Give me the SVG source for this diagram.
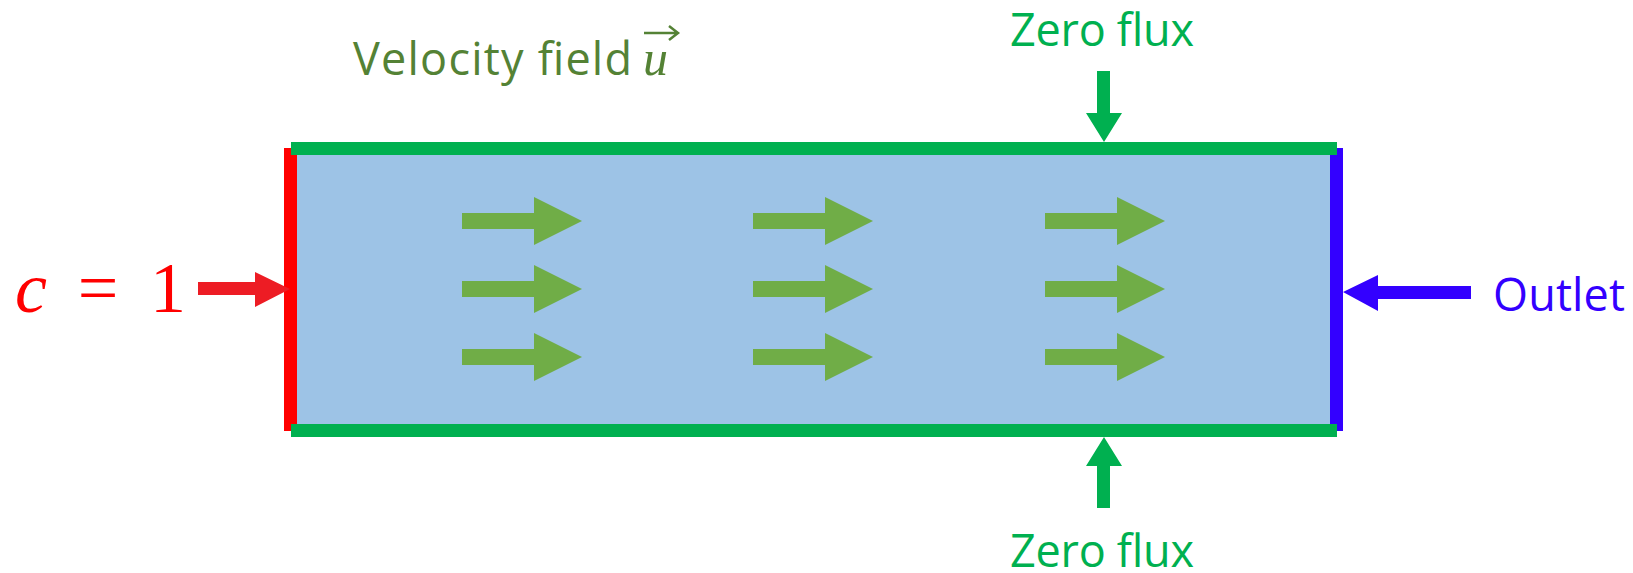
<svg xmlns="http://www.w3.org/2000/svg" width="1633" height="573" viewBox="0 0 1633 573">
<style>
.lbl{font-family:"Open Sans","Noto Sans","Liberation Sans",sans-serif;font-size:45px}
.math{font-family:"Liberation Serif","DejaVu Serif",serif}
.flow{fill:#70AD47}
</style>
<defs>
<path id="flowArrow" d="M0,-8 H72 V-24 L120,0 L72,24 V8 H0 Z"/>
</defs>
<rect width="1633" height="573" fill="#ffffff"/>
<g id="domain">
<rect x="297" y="155" width="1033" height="269" fill="#9DC3E6"/>
</g>
<g id="inlet-boundary">
<rect x="284" y="148" width="13" height="283" fill="#FF0000"/>
</g>
<g id="outlet-boundary">
<rect x="1330" y="148" width="13" height="283" fill="#3300FF"/>
</g>
<g id="top-wall">
<rect x="291" y="142" width="1046" height="13" fill="#00B050"/>
</g>
<g id="bottom-wall">
<rect x="291" y="424" width="1046" height="13" fill="#00B050"/>
</g>
<g id="velocity-arrows" class="flow">
<use href="#flowArrow" x="462" y="221"/>
<use href="#flowArrow" x="462" y="289"/>
<use href="#flowArrow" x="462" y="357"/>
<use href="#flowArrow" x="753" y="221"/>
<use href="#flowArrow" x="753" y="289"/>
<use href="#flowArrow" x="753" y="357"/>
<use href="#flowArrow" x="1045" y="221"/>
<use href="#flowArrow" x="1045" y="289"/>
<use href="#flowArrow" x="1045" y="357"/>
</g>
<g id="connectors">
<polygon points="198,282 255,282 255,272 290,289 255,307 255,295 198,295" fill="#ED1C24"/>
<polygon points="1471,286 1378,286 1378,275 1343,292 1378,311 1378,299 1471,299" fill="#3300FF"/>
<polygon points="1097,71 1110,71 1110,113 1122,113 1104,142 1086,113 1097,113" fill="#00B050"/>
<polygon points="1097,508 1110,508 1110,466 1122,466 1104,437 1086,466 1097,466" fill="#00B050"/>
</g>
<g id="label-velocity">
<text class="lbl" x="353" y="75" fill="#548235" textLength="279">Velocity field</text>
<text class="math" x="643" y="75" font-size="50" font-style="italic" fill="#548235">u</text>
<path d="M644,33 H677 M669,26 L678,33 L669,40" fill="none" stroke="#548235" stroke-width="2.5"/>
</g>
<g id="label-inlet">
<text class="math" y="312" font-size="72" fill="#FF0000"><tspan x="15" font-style="italic">c</tspan><tspan x="98" text-anchor="middle">=</tspan><tspan x="168" text-anchor="middle">1</tspan></text>
</g>
<g id="label-outlet">
<text class="lbl" x="1493" y="311" font-size="47" fill="#3300FF" textLength="132">Outlet</text>
</g>
<g id="label-top">
<text class="lbl" x="1010" y="46" fill="#00B050" textLength="184">Zero flux</text>
</g>
<g id="label-bottom">
<text class="lbl" x="1010" y="567" fill="#00B050" textLength="184">Zero flux</text>
</g>
</svg>
